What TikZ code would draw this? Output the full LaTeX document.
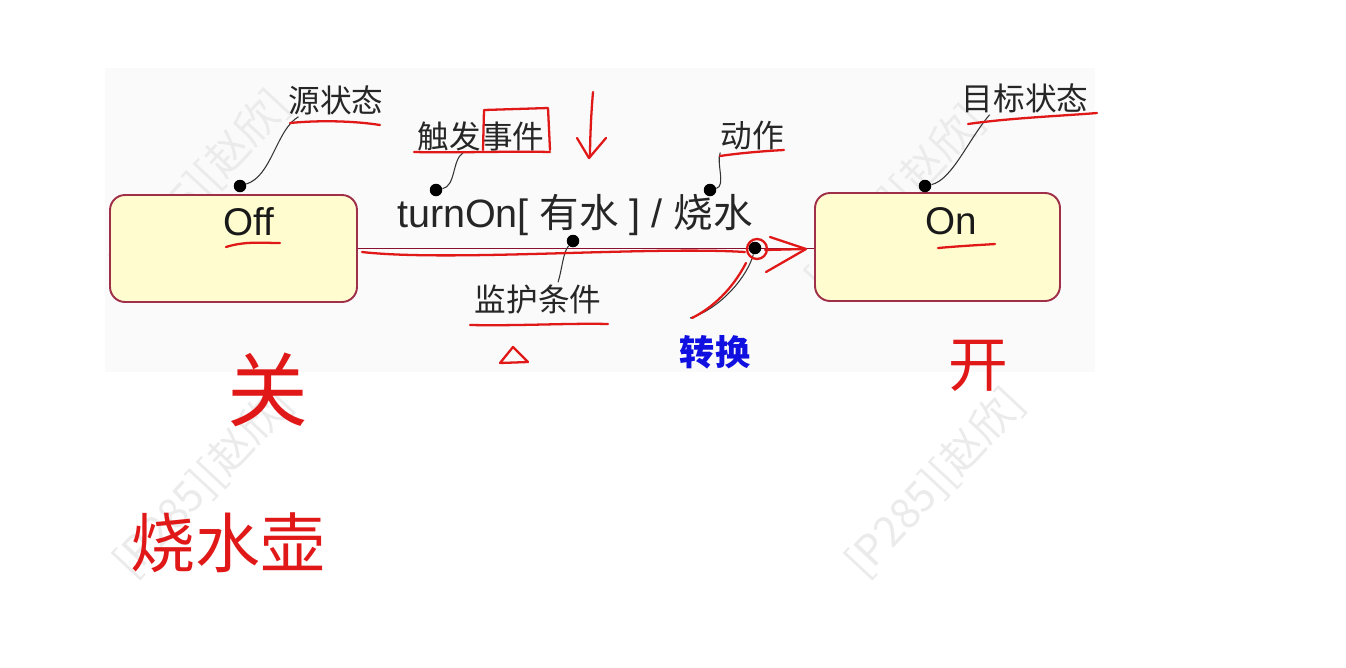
\documentclass[tikz,border=0pt]{standalone}
\usepackage{fontspec}
\setmainfont{Liberation Sans}
\newfontfamily\cjk{Noto Sans CJK SC}
\usetikzlibrary{calc}
\definecolor{statefill}{HTML}{FFFDD0}
\definecolor{stateborder}{HTML}{A0304A}
\definecolor{transline}{HTML}{8A1030}
\definecolor{pen}{HTML}{E01818}
\definecolor{bluepen}{HTML}{1010E0}
\begin{document}
\begin{tikzpicture}[x=0.02cm,y=-0.02cm,
  statebox/.style={draw=stateborder, fill=statefill, line width=1.1pt, rounded corners=0.3cm, inner sep=0pt},
  sname/.style={font=\fontsize{22}{22}\selectfont, text=black!90, inner sep=1pt},
  dot/.style={circle, fill=black, inner sep=0pt, minimum size=0.25cm},
  callout/.style={font=\cjk\fontsize{18}{18}\selectfont, text=black!85, inner sep=1pt},
  leader/.style={draw=black!80, line width=0.6pt},
  pen/.style={draw=pen, line width=1.3pt, line cap=round, line join=round},
  hand/.style={font=\cjk\fontsize{#1}{#1}\selectfont, text=pen, inner sep=0pt},
  wm/.style={font=\cjk\fontsize{24}{24}\selectfont, text=black!8, rotate=47, inner sep=0pt}]
\useasboundingbox (0,0) rectangle (1346,667);
\fill[black!2] (105,68) rectangle (1095,372);
% watermarks
\node[wm] (wm1) at (200,185) {[P285][赵欣]};
\node[wm] (wm2) at (895,200) {[P285][赵欣]};
\node[wm] (wm3) at (203,483) {[P285][赵欣]};
\node[wm] (wm4) at (935,483) {[P285][赵欣]};
% states
\node[statebox, minimum width=4.94cm, minimum height=2.14cm] (Off) at (233.5,248.5) {};
\node[statebox, minimum width=4.9cm, minimum height=2.16cm] (On) at (937.5,247) {};
\node[sname] (offname) at (249,222) {Off};
\node[sname] (onname) at (951,221) {On};
% transition
\draw[draw=transline, line width=1.1pt] (Off.east) -- (Off.east -| On.west);
\node[font=\fontsize{22.5}{22.5}\selectfont, text=black!85, inner sep=1pt] (trig) at (575,215) {turnOn[ {\cjk 有水} ] / {\cjk 烧水}};
% callout labels
\node[callout] (src) at (336,100) {源状态};
\node[callout] (evt) at (481,136) {触发事件};
\node[callout] (act) at (752,136) {动作};
\node[callout] (tgt) at (1025,98) {目标状态};
\node[callout] (grd) at (538,299) {监护条件};
\node[callout, font=\cjk\bfseries\fontsize{20}{20}\selectfont, text=bluepen] (trn) at (715,352) {转换};
% dots
\node[dot] (dsrc) at (240,186) {};
\node[dot] (devt) at (436,190) {};
\node[dot] (dact) at (710,190) {};
\node[dot] (dtgt) at (925,186) {};
\node[dot] (dgrd) at (573,241) {};
\node[dot] (dtrn) at (755,248) {};
% leaders
\draw[leader] (dsrc) .. controls (272,176) and (276,130) .. ($(src.south west)+(12,0)$);
\draw[leader] (devt) .. controls (456,186) and (452,160) .. ($(evt.south)+(-18,0)$);
\draw[leader] (dact) .. controls (726,186) and (716,162) .. ($(act.south west)+(2,0)$);
\draw[leader] (dtgt) .. controls (952,180) and (968,140) .. ($(tgt.south west)+(30,0)$);
\draw[leader] (dgrd) .. controls (563,252) and (562,270) .. ($(grd.north)+(20,0)$);
\draw[leader] (dtrn) .. controls (748,275) and (722,308) .. ($(trn.north)+(-25,-15)$);
% red pen annotations
\draw[pen] (290,123) .. controls (320,120) and (355,121) .. (380,125);
\draw[pen] (414,152) .. controls (460,153) and (510,151) .. (550,152);
\draw[pen] (483,150) -- (484,110) -- (548,108) -- (550,150);
\draw[pen] (593,92) .. controls (591,115) and (590,140) .. (590,157);
\draw[pen] (577,138) -- (589,158) -- (606,138);
\draw[pen] (720,156) .. controls (740,153) and (765,151) .. (784,150);
\draw[pen] (968,124) .. controls (1010,118) and (1060,116) .. (1097,113);
\draw[pen] (226,247) .. controls (245,241) and (262,243) .. (280,243);
\draw[pen] (938,248) .. controls (960,246) and (980,245) .. (995,244);
\draw[pen] (362,252) .. controls (450,262) and (650,246) .. (745,252);
\draw[pen] (765,250) -- (805,249);
\draw[pen] (757,249) circle (10);
\draw[pen] (770,237) -- (806,249) -- (766,272);
\draw[pen] (746,263) .. controls (732,290) and (712,308) .. (692,318);
\draw[pen] (470,325) .. controls (520,326) and (570,323) .. (608,324);
\draw[pen] (500,363) -- (513,347) -- (528,362) -- cycle;
% handwritten words
\node[hand=46] (guan) at (268,390) {关};
\node[hand=37] (hu) at (228,543) {烧水壶};
\node[hand=34] (kai) at (978,366) {开};
\end{tikzpicture}
\end{document}
